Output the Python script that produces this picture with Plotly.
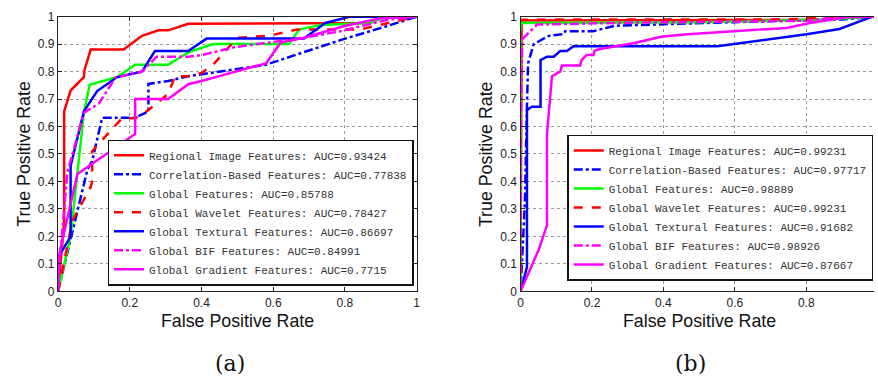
import plotly.graph_objects as go

# ---------------- data ----------------
series_names = [
    "Regional Image Features",
    "Correlation-Based Features",
    "Global Features",
    "Global Wavelet Features",
    "Global Textural Features",
    "Global BIF Features",
    "Global Gradient Features",
]
auc_a = ["0.93424", "0.77838", "0.85788", "0.78427", "0.86697", "0.84991", "0.7715"]
auc_b = ["0.99231", "0.97717", "0.98889", "0.99231", "0.91682", "0.98926", "0.87667"]

# panel (a)
regional_a_x = [0, 0.017, 0.017, 0.035, 0.072, 0.074, 0.091, 0.183, 0.234, 0.28, 0.307, 0.363, 0.87, 0.91, 1]
regional_a_y = [0, 0.25, 0.655, 0.731, 0.78, 0.807, 0.88, 0.88, 0.93, 0.95, 0.95, 0.974, 0.977, 1, 1]
corr_a_x = [0, 0.04, 0.082, 0.095, 0.123, 0.215, 0.252, 0.252, 0.307, 0.363, 0.40, 0.58, 0.686, 0.796, 0.916, 1]
corr_a_y = [0, 0.22, 0.444, 0.474, 0.632, 0.632, 0.655, 0.755, 0.766, 0.783, 0.79, 0.825, 0.871, 0.918, 0.965, 1]
global_a_x = [0, 0.035, 0.072, 0.088, 0.165, 0.215, 0.307, 0.363, 0.432, 0.644, 0.672, 0.732, 0.87, 0.91, 1]
global_a_y = [0, 0.2, 0.65, 0.752, 0.78, 0.825, 0.825, 0.87, 0.90, 0.90, 0.953, 0.97, 0.977, 1, 1]
wavelet_a_x = [0, 0.04, 0.091, 0.095, 0.095, 0.123, 0.178, 0.215, 0.252, 0.307, 0.326, 0.363, 0.40, 0.432, 0.50, 0.585, 0.667, 0.842, 0.916, 1]
wavelet_a_y = [0, 0.257, 0.38, 0.40, 0.51, 0.55, 0.63, 0.63, 0.66, 0.719, 0.783, 0.783, 0.795, 0.825, 0.923, 0.93, 0.953, 0.953, 0.974, 1]
textural_a_x = [0, 0, 0.035, 0.035, 0.072, 0.109, 0.165, 0.234, 0.27, 0.363, 0.414, 0.686, 0.745, 0.815, 1]
textural_a_y = [0, 0.123, 0.199, 0.456, 0.655, 0.729, 0.78, 0.80, 0.875, 0.875, 0.92, 0.92, 0.977, 1, 1]
bif_a_x = [0, 0.005, 0.026, 0.072, 0.114, 0.16, 0.234, 0.275, 0.363, 0.40, 0.492, 0.621, 0.686, 0.787, 0.916, 1]
bif_a_y = [0, 0.12, 0.433, 0.65, 0.684, 0.778, 0.80, 0.854, 0.854, 0.86, 0.889, 0.912, 0.923, 0.947, 0.988, 1]
gradient_a_x = [0, 0.003, 0.054, 0.215, 0.215, 0.307, 0.363, 0.40, 0.58, 0.621, 0.686, 0.796, 0.898, 1]
gradient_a_y = [0, 0.134, 0.427, 0.573, 0.70, 0.70, 0.754, 0.766, 0.83, 0.906, 0.923, 0.965, 0.994, 1]

# panel (b)
regional_b_x = [0, 0.003, 0.85, 0.92, 1]
regional_b_y = [0, 0.986, 0.988, 1, 1]
corr_b_x = [0, 0.01, 0.012, 0.018, 0.021, 0.037, 0.079, 0.12, 0.125, 0.204, 0.264, 0.6, 0.9, 1]
corr_b_y = [0, 0.246, 0.32, 0.673, 0.83, 0.90, 0.93, 0.936, 0.947, 0.947, 0.967, 0.98, 0.99, 1]
global_b_x = [0, 0, 0.5, 0.85, 1]
global_b_y = [0, 0.977, 0.98, 0.99, 1]
wavelet_b_x = [0, 0, 0.75, 0.9, 1]
wavelet_b_y = [0, 0.989, 0.99, 1, 1]
textural_b_x = [0, 0.018, 0.018, 0.032, 0.056, 0.056, 0.074, 0.093, 0.111, 0.13, 0.148, 0.551, 0.801, 0.893, 0.985, 1]
textural_b_y = [0, 0.088, 0.66, 0.672, 0.672, 0.842, 0.854, 0.854, 0.875, 0.875, 0.892, 0.892, 0.936, 0.955, 1, 1]
bif_b_x = [0, 0, 0.005, 0.046, 0.3, 0.8, 0.9, 1]
bif_b_y = [0, 0.6, 0.918, 0.971, 0.978, 0.985, 1, 1]
gradient_b_x = [0, 0.051, 0.074, 0.074, 0.088, 0.111, 0.116, 0.167, 0.171, 0.185, 0.204, 0.208, 0.227, 0.319, 0.393, 0.468, 0.597, 0.745, 0.81, 0.893, 0.912, 1]
gradient_b_y = [0, 0.152, 0.24, 0.573, 0.783, 0.80, 0.822, 0.822, 0.842, 0.86, 0.86, 0.877, 0.883, 0.904, 0.927, 0.936, 0.947, 0.959, 0.977, 0.994, 0.998, 1]

x_tickvals = [0, 0.2, 0.4, 0.6, 0.8, 1]
x_ticktext = ["0", "0.2", "0.4", "0.6", "0.8", "1"]
y_tickvals = [0, 0.1, 0.2, 0.3, 0.4, 0.5, 0.6, 0.7, 0.8, 0.9, 1]
y_ticktext = ["0", "0.1", "0.2", "0.3", "0.4", "0.5", "0.6", "0.7", "0.8", "0.9", "1"]
panel_labels = ["(a)", "(b)"]
x_title = "False Positive Rate"
y_title = "True Positive Rate"

# ---------------- styles ----------------
colors = ["#FF0000", "#0000FF", "#00FF00", "#FF0000", "#0000FF", "#FF00FF", "#FF00FF"]
dashes = ["solid", "dashdot", "solid", "dash", "solid", "dashdot", "solid"]

data_a = [(regional_a_x, regional_a_y), (corr_a_x, corr_a_y), (global_a_x, global_a_y),
          (wavelet_a_x, wavelet_a_y), (textural_a_x, textural_a_y), (bif_a_x, bif_a_y),
          (gradient_a_x, gradient_a_y)]
data_b = [(regional_b_x, regional_b_y), (corr_b_x, corr_b_y), (global_b_x, global_b_y),
          (wavelet_b_x, wavelet_b_y), (textural_b_x, textural_b_y), (bif_b_x, bif_b_y),
          (gradient_b_x, gradient_b_y)]

W, H = 878, 387
fig = go.Figure()

for i, (xs, ys) in enumerate(data_a):
    fig.add_trace(go.Scatter(
        x=xs, y=ys, mode="lines", xaxis="x", yaxis="y", legend="legend",
        name=f"{series_names[i]}: AUC={auc_a[i]}",
        line=dict(color=colors[i], dash=dashes[i], width=2.5),
    ))
for i, (xs, ys) in enumerate(data_b):
    fig.add_trace(go.Scatter(
        x=xs, y=ys, mode="lines", xaxis="x2", yaxis="y2", legend="legend2",
        name=f"{series_names[i]}: AUC={auc_b[i]}",
        line=dict(color=colors[i], dash=dashes[i], width=2.5),
    ))

# pixel geometry
ax_left, ax_right = 55.5, 417.0
bx_left, bx_unit = 521.7, 360.0
y_top, y_bot = 10.0, 295.0

ydom = [1 - y_bot / H, 1 - y_top / H]
tickfont = dict(family="Liberation Sans, Arial, sans-serif", size=12, color="#222")
common = dict(
    showgrid=True, gridcolor="#9a9a9a", griddash="dot", gridwidth=0.8,
    ticks="inside", ticklen=4, tickcolor="#222", tickwidth=1,
    showline=True, linecolor="#222", linewidth=1.3,
    zeroline=False, tickfont=tickfont, fixedrange=True,
)

legend_common = dict(
    bgcolor="white", bordercolor="#111", borderwidth=1.3,
    font=dict(family="Liberation Mono, Courier New, monospace", size=11, color="#333"),
    tracegroupgap=0, itemwidth=30,
)

fig.update_layout(
    width=W, height=H,
    margin=dict(l=0, r=0, t=0, b=0),
    paper_bgcolor="white", plot_bgcolor="white",
    xaxis=dict(domain=[ax_left / W, ax_right / W], range=[0, 1], anchor="y",
               tickvals=x_tickvals, ticktext=x_ticktext, mirror="ticks", **common),
    yaxis=dict(domain=ydom, range=[0, 1], anchor="x",
               tickvals=y_tickvals, ticktext=y_ticktext, mirror="ticks", **common),
    xaxis2=dict(domain=[bx_left / W, 1.0], range=[0, (W - bx_left) / bx_unit], anchor="y2",
                tickvals=x_tickvals, ticktext=x_ticktext, mirror="ticks", **common),
    yaxis2=dict(domain=ydom, range=[0, 1], anchor="x2",
                tickvals=y_tickvals, ticktext=y_ticktext, mirror=False, **common),
    legend=dict(x=414 / W, y=1 - 289 / H, xanchor="right", yanchor="bottom", **legend_common),
    legend2=dict(x=569 / W, y=1 - 284 / H, xanchor="left", yanchor="bottom", **legend_common),
    showlegend=True,
)

title_font = dict(family="Liberation Sans, Arial, sans-serif", size=17.8, color="#111")
label_font = dict(family="DejaVu Serif, Liberation Serif, serif", size=22, color="#111")
annotations = [
    dict(text=x_title, x=(ax_left + ax_right) / 2 / W, y=1 - 326 / H),
    dict(text=x_title, x=(bx_left + bx_left + bx_unit) / 2 / W, y=1 - 326 / H),
    dict(text=y_title, x=21 / W, y=1 - (y_top + y_bot) / 2 / H, textangle=-90),
    dict(text=y_title, x=487 / W, y=1 - (y_top + y_bot) / 2 / H, textangle=-90),
]
for a in annotations:
    a.update(xref="paper", yref="paper", showarrow=False, xanchor="center",
             yanchor="middle", font=title_font)
annotations += [
    dict(text=panel_labels[0], x=229 / W, y=1 - 370 / H, font=label_font),
    dict(text=panel_labels[1], x=693 / W, y=1 - 370 / H, font=label_font),
]
for a in annotations[4:]:
    a.update(xref="paper", yref="paper", showarrow=False, xanchor="center", yanchor="middle")
fig.update_layout(annotations=annotations)

fig.write_html(
    "out.html",
    config={"displayModeBar": False},
    post_script="document.body.style.margin='0';document.body.style.padding='0';"
                "document.body.style.overflow='hidden';",
)
